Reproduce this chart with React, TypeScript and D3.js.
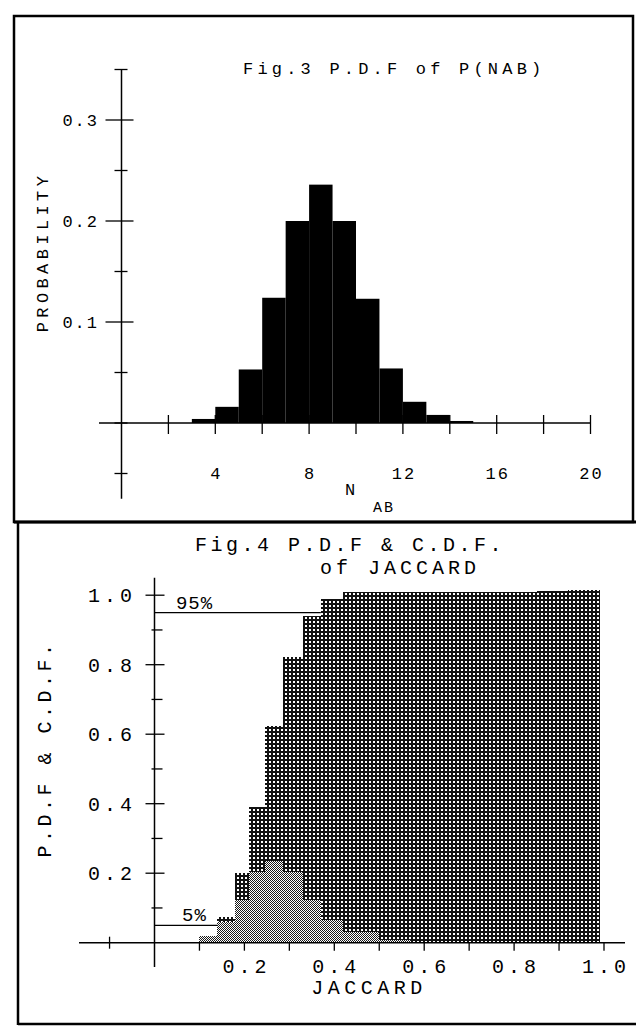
import * as d3 from "d3";

// Fig.3 : P.D.F of P(NAB)
const nabBins = [3, 4, 5, 6, 7, 8, 9, 10, 11, 12, 13, 14];
const nabProb = [0.004, 0.016, 0.053, 0.124, 0.2, 0.236, 0.2, 0.123, 0.054, 0.021, 0.008, 0.002];
const nabTicks = [4, 8, 12, 16, 20];
const probTicks = [0.1, 0.2, 0.3];

// Fig.4 : P.D.F & C.D.F. of JACCARD
const jacEdges = [0.10, 0.14, 0.18, 0.21, 0.245, 0.285, 0.33, 0.37, 0.42, 0.50, 0.57, 0.64, 0.71, 0.78, 0.85, 0.92, 0.99];
const jacPdf = [0.02, 0.06, 0.123, 0.204, 0.236, 0.204, 0.123, 0.065, 0.032, 0.008, 0, 0, 0, 0, 0, 0];
const jacCdf = [0.02, 0.074, 0.2, 0.39, 0.624, 0.823, 0.939, 0.988, 1.01, 1.01, 1.01, 1.01, 1.01, 1.01, 1.012, 1.015];
const jacTicks = [0.2, 0.4, 0.6, 0.8, 1.0];
const cdfTicks = [0.2, 0.4, 0.6, 0.8, 1.0];
const pctMarks = [
  { label: "5%", level: 0.05, edge: 0.14 },
  { label: "95%", level: 0.95, edge: 0.37 },
];

const FONT = "'Liberation Mono', 'DejaVu Sans Mono', monospace";
const fmt = d3.format(".1f");

export default function App() {
  // scales fig 3
  const x3 = d3.scaleLinear().domain([0, 20]).range([121.5, 590.5]);
  const y3 = d3.scaleLinear().domain([0, 0.3]).range([423, 120]);
  // scales fig 4
  const x4 = d3.scaleLinear().domain([0, 1]).range([154.5, 604]);
  const y4 = d3.scaleLinear().domain([0, 1]).range([942.7, 595.2]);

  const y3Ticks = d3.range(-0.05, 0.351, 0.05);
  const x3Ticks = d3.range(2, 20.1, 2);
  const y4Ticks = d3.range(0.1, 1.01, 0.1);
  const x4Ticks = d3.range(0.1, 1.01, 0.1);

  const ax = x3(0);
  const ax4 = x4(0);

  return (
    <svg
      width={636}
      height={1027}
      style={{ position: "absolute", left: 0, top: 0, background: "#fff" }}
      fontFamily={FONT}
    >
      <defs>
        {/* plotter crosshatch for the C.D.F. */}
        <pattern id="cross" width={4} height={4} patternUnits="userSpaceOnUse">
          <rect width={4} height={4} fill="#111" />
          <rect x={1} y={1} width={2} height={2} fill="#fff" />
        </pattern>
        {/* fine stipple for the P.D.F. */}
        <pattern id="stip" width={2} height={2} patternUnits="userSpaceOnUse">
          <rect width={2} height={2} fill="#fff" />
          <rect x={0} y={0} width={1} height={1} fill="#1a1a1a" />
          <rect x={1} y={1} width={1} height={1} fill="#1a1a1a" />
        </pattern>
      </defs>

      {/* frames */}
      <rect x={14} y={16} width={619} height={506} fill="none" stroke="#000" strokeWidth={2.5} />
      <line x1={14} x2={636} y1={522} y2={522} stroke="#000" strokeWidth={3} />
      <line x1={18} x2={18} y1={522} y2={1025} stroke="#000" strokeWidth={2.5} />
      <line x1={18} x2={636} y1={1024} y2={1024} stroke="#000" strokeWidth={2.5} />

      {/* ---------- Fig.3 ---------- */}
      <text x={243} y={74} fontSize={17} letterSpacing={4.2}>Fig.3 P.D.F of P(NAB)</text>

      {nabBins.map((b, i) => (
        <rect
          key={b}
          x={x3(b)}
          width={x3(b + 1) - x3(b)}
          y={y3(nabProb[i])}
          height={y3(0) - y3(nabProb[i])}
          fill="#000"
        />
      ))}

      <line x1={ax} x2={ax} y1={y3(0.35)} y2={y3(-0.075)} stroke="#000" strokeWidth={1.5} />
      {y3Ticks.map((t) => {
        const major = Math.abs(Math.round(t * 10) - t * 10) < 1e-6 && Math.abs(t) > 1e-6;
        return (
          <line
            key={t}
            x1={ax - (major ? 16 : 7)}
            x2={ax + (major ? 12 : 6)}
            y1={y3(t)}
            y2={y3(t)}
            stroke="#000"
            strokeWidth={1.3}
          />
        );
      })}
      {probTicks.map((t) => (
        <text key={t} x={97 + 2} y={y3(t) + 6} fontSize={17} letterSpacing={2} textAnchor="end">
          {fmt(t)}
        </text>
      ))}
      <text
        transform={`translate(48,252) rotate(-90)`}
        fontSize={17}
        letterSpacing={4.4}
        textAnchor="middle"
      >
        PROBABILITY
      </text>

      <line x1={99} x2={x3(20)} y1={y3(0)} y2={y3(0)} stroke="#000" strokeWidth={1.5} />
      {x3Ticks.map((t) => (
        <line key={t} x1={x3(t)} x2={x3(t)} y1={y3(0) - 8} y2={y3(0) + 11} stroke="#000" strokeWidth={1.3} />
      ))}
      {nabTicks.map((t) => (
        <text key={t} x={x3(t) + 1} y={479} fontSize={17} letterSpacing={2} textAnchor="middle">
          {t}
        </text>
      ))}
      <text x={350} y={495} fontSize={17} textAnchor="middle">N</text>
      <text x={384} y={512} fontSize={15} letterSpacing={2} textAnchor="middle">AB</text>

      {/* ---------- Fig.4 ---------- */}
      <text x={195} y={551} fontSize={20} letterSpacing={3.5}>Fig.4 P.D.F &amp; C.D.F.</text>
      <text x={320} y={574} fontSize={20} letterSpacing={4}>of JACCARD</text>

      {jacCdf.map((c, i) => (
        <rect
          key={"c" + i}
          x={x4(jacEdges[i])}
          width={x4(jacEdges[i + 1]) - x4(jacEdges[i])}
          y={y4(c)}
          height={y4(0) - y4(c)}
          fill="url(#cross)"
          shapeRendering="crispEdges"
        />
      ))}
      {jacPdf.map((p, i) =>
        p > 0 ? (
          <rect
            key={"p" + i}
            x={x4(jacEdges[i])}
            width={x4(jacEdges[i + 1]) - x4(jacEdges[i])}
            y={y4(p)}
            height={y4(0) - y4(p)}
            fill="url(#stip)"
            shapeRendering="crispEdges"
          />
        ) : null
      )}

      <line x1={ax4} x2={ax4} y1={y4(1.05)} y2={y4(-0.07)} stroke="#000" strokeWidth={1.5} />
      {y4Ticks.map((t) => {
        const major = Math.round(t * 10) % 2 === 0;
        return (
          <line
            key={t}
            x1={ax4 - (major ? 9 : 3)}
            x2={ax4 + (major ? 10 : 8)}
            y1={y4(t)}
            y2={y4(t)}
            stroke="#000"
            strokeWidth={1.3}
          />
        );
      })}
      {cdfTicks.map((t) => (
        <text key={t} x={132 + 4} y={y4(t) + 7} fontSize={20} letterSpacing={4} textAnchor="end">
          {fmt(t)}
        </text>
      ))}
      <text
        transform={`translate(51,749) rotate(-90)`}
        fontSize={20}
        letterSpacing={3.5}
        textAnchor="middle"
      >
        P.D.F &amp; C.D.F.
      </text>

      <line x1={79} x2={625} y1={y4(0)} y2={y4(0)} stroke="#000" strokeWidth={1.5} />
      <line x1={x4(-0.1)} x2={x4(-0.1)} y1={y4(0) - 6} y2={y4(0) + 6} stroke="#000" strokeWidth={1.3} />
      {x4Ticks.map((t) => (
        <line key={t} x1={x4(t)} x2={x4(t)} y1={y4(0)} y2={y4(0) + 8} stroke="#000" strokeWidth={1.3} />
      ))}
      {jacTicks.map((t) => (
        <text key={t} x={x4(t) + 2} y={973} fontSize={20} letterSpacing={4} textAnchor="middle">
          {fmt(t)}
        </text>
      ))}
      <text x={369} y={994} fontSize={20} letterSpacing={4.5} textAnchor="middle">JACCARD</text>

      {pctMarks.map((m) => (
        <g key={m.label}>
          <line x1={ax4} x2={x4(m.edge)} y1={y4(m.level)} y2={y4(m.level)} stroke="#000" strokeWidth={1.3} />
          <text x={ax4 + 40} y={y4(m.level) - 4} fontSize={19} letterSpacing={1} textAnchor="middle">
            {m.label}
          </text>
        </g>
      ))}
    </svg>
  );
}
